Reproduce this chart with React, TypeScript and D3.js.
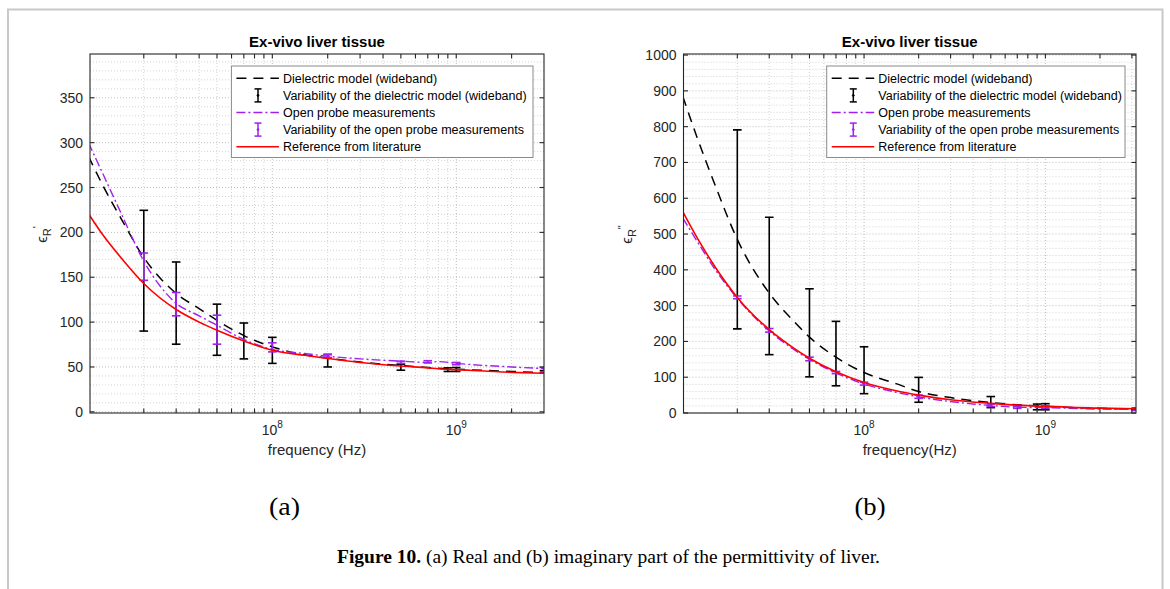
import React from "react";
import * as d3 from "d3";

// ---------- DATA ----------
const curveFreq = [1e7, 1.2e7, 1.5e7, 2e7, 3e7, 4e7, 5e7, 7e7, 1e8, 1.5e8, 2e8, 3e8, 5e8, 7e8, 8e8, 1e9, 2e9, 3.2e9];

// (a) real part
const realModel = [285, 252, 216, 172, 132, 115, 102, 85, 72.4, 63.5, 60, 55.5, 51.5, 49.5, 48.5, 47.5, 45, 43.5];
const realProbe = [300, 265, 222, 168, 121, 107, 96.5, 80.6, 69.5, 65, 62, 59, 56.5, 55, 56, 54, 50, 48];
const realRef = [221, 197, 172, 143, 114, 100, 91, 79, 68.7, 63, 59.5, 55, 51, 49, 48, 47, 44, 42.8];

const errFreqA = [2e7, 3e7, 5e7, 7e7, 1e8, 2e8, 5e8, 9e8, 1e9, 3e9];
const realModelLow = [90, 75.4, 63, 59, 54, 50, 46.4, 45, 45, 43];
const realModelHigh = [224.6, 167, 120, 99, 83, 64, 53, 49, 49.4, 46];
const probeFreqA = [2e7, 3e7, 5e7, 1e8, 2e8, 5e8, 7e8, 1e9, 3e9];
const realProbeLow = [146.6, 107, 75.4, 66.8, 60.6, 54, 54.5, 52.5, 44.5];
const realProbeHigh = [177, 133, 107.7, 76.9, 63.9, 56.5, 57, 55, 49.4];

// (b) imaginary part
const imagModel = [885, 770, 640, 485, 335, 262, 212, 156, 113, 82, 60, 43, 29, 23, 21, 18.5, 13, 11];
const imagProbe = [545, 480, 403, 320, 229, 181, 150, 112, 81, 58, 45, 32, 21, 16, 15.5, 15, 11, 10];
const imagRef = [563, 490, 410, 323, 233, 185, 153, 115, 85, 62, 50, 37, 27, 22, 20.5, 18.5, 13.5, 12];

const errFreqB = [2e7, 3e7, 5e7, 7e7, 1e8, 2e8, 5e8, 9e8, 1e9, 3.16e9];
const imagModelLow = [235, 163, 101, 76, 54, 30, 15, 9, 9, 8];
const imagModelHigh = [791, 547, 347, 256, 185, 99.5, 46, 25, 26, 14];
const probeFreqB = [2e7, 3e7, 5e7, 7e7, 1e8, 2e8, 5e8, 7e8, 1e9, 3.16e9];
const imagProbeLow = [319, 226, 146, 110, 78, 41, 18, 13, 13, 7];
const imagProbeHigh = [327, 236, 156, 116, 86, 50, 25, 18, 20, 14];

const yTicksA = [0, 50, 100, 150, 200, 250, 300, 350];
const yTicksB = [0, 100, 200, 300, 400, 500, 600, 700, 800, 900, 1000];
const xMajorExp = [8, 9];

const legendLabels = [
  "Dielectric model (wideband)",
  "Variability of the dielectric model (wideband)",
  "Open probe measurements",
  "Variability of the open probe measurements",
  "Reference from literature",
];

const title = "Ex-vivo liver tissue";

// ---------- STYLE ----------
const SANS = "'Liberation Sans', Arial, Helvetica, sans-serif";
const SERIF = "'Liberation Serif', 'Times New Roman', serif";
const AX = "#262626";
const PURPLE = "#A020F0";
const RED = "#FF0000";
const DASH = "10 7";
const DASHDOT = "9 3 2 3";

type PanelProps = {
  id: string;
  xDomain: [number, number];
  xRange: [number, number];
  yDomain: [number, number];
  yRange: [number, number];
  yTicks: number[];
  yMinorStep: number;
  model: number[];
  probe: number[];
  refv: number[];
  errF: number[];
  errLo: number[];
  errHi: number[];
  pF: number[];
  pLo: number[];
  pHi: number[];
  xLabel: string;
  yPrime: string;
  yLabelX: number;
  legendW: number;
};

function Panel(p: PanelProps) {
  const x = d3.scaleLog().domain(p.xDomain).range(p.xRange);
  const y = d3.scaleLinear().domain(p.yDomain).range(p.yRange);
  const [x0, x1] = p.xRange;
  const [yb, yt] = p.yRange;
  const cx = (x0 + x1) / 2;

  const minorX: number[] = [];
  for (let k = 6; k <= 9; k++) {
    for (let m = 2; m <= 9; m++) {
      const f = m * Math.pow(10, k);
      if (f > p.xDomain[0] && f < p.xDomain[1]) minorX.push(f);
    }
  }
  const majorX = xMajorExp.map((e) => Math.pow(10, e));
  const minorY = d3
    .range(0, p.yDomain[1], p.yMinorStep)
    .filter((v) => !p.yTicks.includes(v) && v > p.yDomain[0]);

  const line = d3
    .line<number>()
    .x((_, i) => x(curveFreq[i]))
    .y((d) => y(d))
    .curve(d3.curveMonotoneX);

  const cap = 4.3;
  const bars = (F: number[], lo: number[], hi: number[], color: string) =>
    F.map((f, i) => {
      const xx = x(f);
      const ya = y(lo[i]);
      const yc = y(hi[i]);
      return (
        <g key={color + i} stroke={color} strokeWidth={1.6} fill="none">
          <line x1={xx} x2={xx} y1={ya} y2={yc} />
          <line x1={xx - cap} x2={xx + cap} y1={ya} y2={ya} />
          <line x1={xx - cap} x2={xx + cap} y1={yc} y2={yc} />
        </g>
      );
    });

  const tl = 4.5;
  const lgX = x1 - 11 - p.legendW;
  const lgY = yt + 12;
  const rowH = 17.1;
  const rows = legendLabels.map((_, i) => lgY + 12.3 + i * rowH);
  const sx0 = lgX + 5;
  const sx1 = lgX + 47.5;
  const sxm = lgX + 26.6;

  const icon = (yy: number, color: string) => (
    <g stroke={color} strokeWidth={1.5}>
      <line x1={sxm} x2={sxm} y1={yy - 6.5} y2={yy + 6.5} />
      <line x1={sxm - 3.5} x2={sxm + 3.5} y1={yy - 6.5} y2={yy - 6.5} />
      <line x1={sxm - 3.5} x2={sxm + 3.5} y1={yy + 6.5} y2={yy + 6.5} />
      <circle cx={sxm} cy={yy} r={1} fill={color} strokeWidth={0.8} />
    </g>
  );

  return (
    <g>
      <defs>
        <clipPath id={"clip" + p.id}>
          <rect x={x0} y={yt} width={x1 - x0} height={yb - yt} />
        </clipPath>
      </defs>
      <rect x={x0} y={yt} width={x1 - x0} height={yb - yt} fill="#fff" />
      {/* grid */}
      <g stroke="#c8c8c8" strokeWidth={0.8} strokeDasharray="1 2" fill="none">
        {minorX.map((f, i) => (
          <line key={"gx" + i} x1={x(f)} x2={x(f)} y1={yt} y2={yb} />
        ))}
        {minorY.map((v, i) => (
          <line key={"gy" + i} x1={x0} x2={x1} y1={y(v)} y2={y(v)} />
        ))}
      </g>
      <g stroke="#b8b8b8" strokeWidth={0.9} strokeDasharray="1 2" fill="none">
        {majorX.map((f, i) => (
          <line key={"Gx" + i} x1={x(f)} x2={x(f)} y1={yt} y2={yb} />
        ))}
        {p.yTicks.map((v, i) => (
          <line key={"Gy" + i} x1={x0} x2={x1} y1={y(v)} y2={y(v)} />
        ))}
      </g>
      {/* data */}
      <g clipPath={`url(#clip${p.id})`}>
        <path d={line(p.model) || ""} fill="none" stroke="#000" strokeWidth={1.5} strokeDasharray={DASH} />
        {bars(p.errF, p.errLo, p.errHi, "#000")}
        <path d={line(p.probe) || ""} fill="none" stroke={PURPLE} strokeWidth={1.4} strokeDasharray={DASHDOT} />
        {bars(p.pF, p.pLo, p.pHi, PURPLE)}
        <path d={line(p.refv) || ""} fill="none" stroke={RED} strokeWidth={1.6} />
      </g>
      {/* axes box & ticks */}
      <g stroke={AX} strokeWidth={1.1} fill="none">
        <rect x={x0} y={yt} width={x1 - x0} height={yb - yt} />
        {[...minorX, ...majorX].map((f, i) => (
          <g key={"tx" + i}>
            <line x1={x(f)} x2={x(f)} y1={yb} y2={yb - tl} />
            <line x1={x(f)} x2={x(f)} y1={yt} y2={yt + tl} />
          </g>
        ))}
        {p.yTicks.map((v, i) => (
          <g key={"ty" + i}>
            <line x1={x0} x2={x0 + tl} y1={y(v)} y2={y(v)} />
            <line x1={x1} x2={x1 - tl} y1={y(v)} y2={y(v)} />
          </g>
        ))}
      </g>
      {/* tick labels */}
      <g fontFamily={SANS} fontSize={14} fill={AX}>
        {p.yTicks.map((v, i) => (
          <text key={"ly" + i} x={x0 - 7} y={y(v)} dy="0.36em" textAnchor="end">
            {v}
          </text>
        ))}
        {xMajorExp.map((e, i) => (
          <text key={"lx" + i} x={x(Math.pow(10, e))} y={yb + 22} textAnchor="middle">
            10
            <tspan fontSize={10} dy={-7}>
              {e}
            </tspan>
          </text>
        ))}
        <text x={cx} y={yb + 42} textAnchor="middle" fontSize={15}>
          {p.xLabel}
        </text>
        <text transform={`translate(${p.yLabelX},${(yt + yb) / 2 + 1}) rotate(-90)`} textAnchor="middle" fontSize={15}>
          ϵ
          <tspan fontSize={11} dy={4}>
            R
          </tspan>
          <tspan fontSize={11} dy={-10}>
            {p.yPrime}
          </tspan>
        </text>
      </g>
      <text x={cx} y={yt - 7} textAnchor="middle" fontFamily={SANS} fontWeight="bold" fontSize={15} fill="#000">
        {title}
      </text>
      {/* legend */}
      <g>
        <rect x={lgX} y={lgY} width={p.legendW} height={rowH * 5 + 6} fill="#fff" stroke="#8a8a8a" strokeWidth={1} />
        <line x1={sx0} x2={sx1} y1={rows[0]} y2={rows[0]} stroke="#000" strokeWidth={1.5} strokeDasharray={DASH} />
        {icon(rows[1], "#000")}
        <line x1={sx0} x2={sx1} y1={rows[2]} y2={rows[2]} stroke={PURPLE} strokeWidth={1.4} strokeDasharray={DASHDOT} />
        {icon(rows[3], PURPLE)}
        <line x1={sx0} x2={sx1} y1={rows[4]} y2={rows[4]} stroke={RED} strokeWidth={1.6} />
        <g fontFamily={SANS} fontSize={12.5} fill="#000">
          {legendLabels.map((t, i) => (
            <text key={"lg" + i} x={lgX + 51.6} y={rows[i] + 4.5}>
              {t}
            </text>
          ))}
        </g>
      </g>
    </g>
  );
}

export default function App() {
  return (
    <svg
      width={1170}
      height={589}
      viewBox="0 0 1170 589"
      style={{ position: "absolute", left: 0, top: 0, background: "#fff" }}
    >
      <rect x={0} y={0} width={1170} height={589} fill="#fff" />
      <rect x={8} y={9.5} width={1154.5} height={640} fill="none" stroke="#c8c8c8" strokeWidth={2} />
      <Panel
        id="a"
        xDomain={[1.02e7, 3e9]}
        xRange={[90, 544]}
        yDomain={[-1.3, 398.8]}
        yRange={[413, 54]}
        yTicks={yTicksA}
        yMinorStep={10}
        model={realModel}
        probe={realProbe}
        refv={realRef}
        errF={errFreqA}
        errLo={realModelLow}
        errHi={realModelHigh}
        pF={probeFreqA}
        pLo={realProbeLow}
        pHi={realProbeHigh}
        xLabel="frequency (Hz)"
        yPrime="'"
        yLabelX={47}
        legendW={301.6}
      />
      <Panel
        id="b"
        xDomain={[1.01e7, 3.16e9]}
        xRange={[683.5, 1136]}
        yDomain={[0, 1003]}
        yRange={[413, 54]}
        yTicks={yTicksB}
        yMinorStep={20}
        model={imagModel}
        probe={imagProbe}
        refv={imagRef}
        errF={errFreqB}
        errLo={imagModelLow}
        errHi={imagModelHigh}
        pF={probeFreqB}
        pLo={imagProbeLow}
        pHi={imagProbeHigh}
        xLabel="frequency(Hz)"
        yPrime={'"'}
        yLabelX={631.5}
        legendW={298.3}
      />
      <g fontFamily={SERIF} fill="#000">
        <text x={284.5} y={515} fontSize={26} textAnchor="middle" textLength={31} lengthAdjust="spacingAndGlyphs">
          (a)
        </text>
        <text x={870} y={515} fontSize={26} textAnchor="middle" textLength={31} lengthAdjust="spacingAndGlyphs">
          (b)
        </text>
        <text x={608.5} y={563} fontSize={18.5} textAnchor="middle" textLength={543} lengthAdjust="spacingAndGlyphs">
          <tspan fontWeight="bold">Figure 10.</tspan> (a) Real and (b) imaginary part of the permittivity of liver.
        </text>
      </g>
    </svg>
  );
}
